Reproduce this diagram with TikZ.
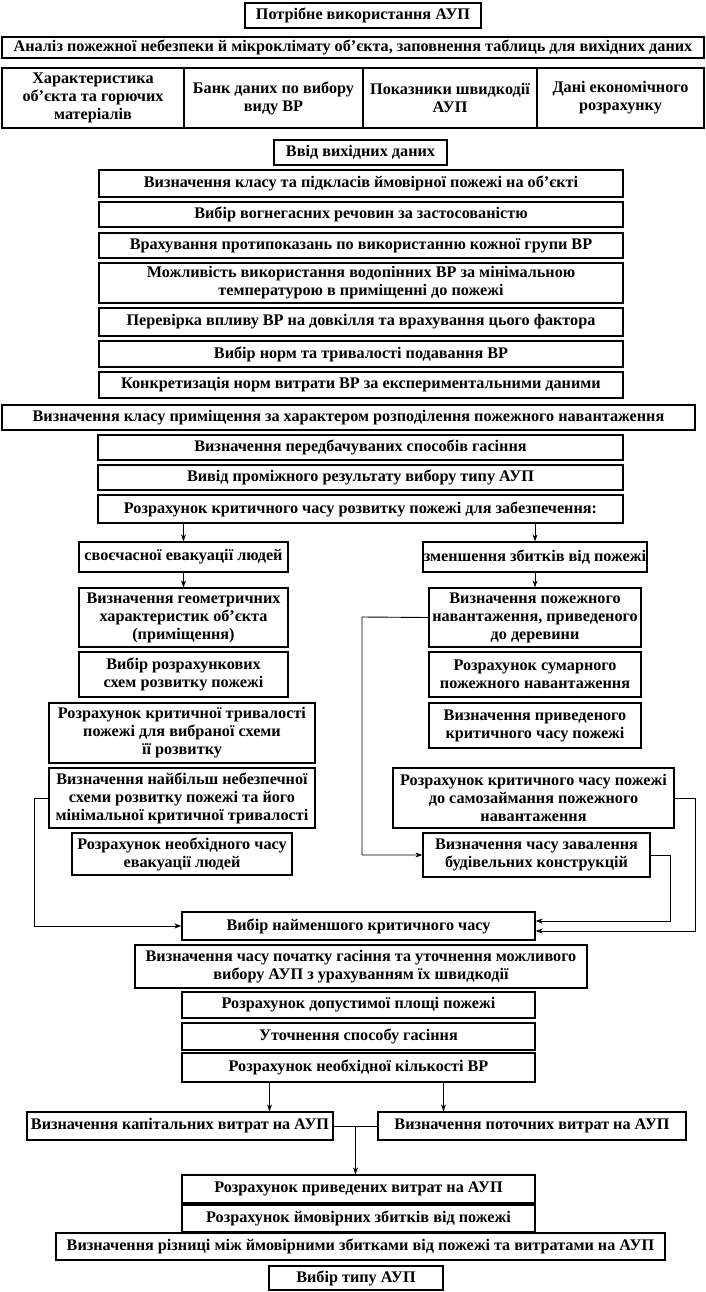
\documentclass[tikz,border=0pt]{standalone}
\usepackage{fontspec}
\setmainfont{Liberation Serif}
\usetikzlibrary{arrows.meta,calc}
\tikzset{
  box/.style={draw, line width=1.3pt, inner sep=0pt, align=center, font=\bfseries\fontsize{16.2}{18}\selectfont},
  arr/.style={line width=0.9pt, -{Stealth[length=7pt,width=5pt]}},
  conn/.style={line width=0.9pt}
}
\newcommand\bx[7][]{\node[box,#1,minimum width={(#5-#3)*1pt},minimum height={(#6-#4)*1pt}] (#2) at ({(#3+#5)/2*1pt},{-(#4+#6)/2*1pt}) {#7};}
\begin{document}
\begin{tikzpicture}
\useasboundingbox (0,0) rectangle (705pt,-1292pt);
\fill[white] (0,0) rectangle (705pt,-1292pt);
\bx{n1}{245}{3}{481}{28}{Потрібне використання АУП}
\bx[font=\bfseries\fontsize{16.2}{18}\selectfont]{n2}{2}{37}{704}{58}{Аналіз пожежної небезпеки й мікроклімату об’єкта, заповнення таблиць для вихідних даних}
\bx{n3}{2}{68}{184}{128}{Характеристика\\об’єкта та горючих\\матеріалів}
\bx{n4}{184}{68}{363}{128}{Банк даних по вибору\\виду ВР}
\bx{n5}{363}{68}{537}{128}{Показники швидкодії\\АУП}
\bx{n6}{537}{68}{704}{128}{Дані економічного\\розрахунку}
\bx{n7}{274}{140}{447}{165}{Ввід вихідних даних}
\bx{n8}{99}{170}{623}{197}{Визначення класу та підкласів ймовірної пожежі на об’єкті}
\bx{n9}{99}{202}{623}{227}{Вибір вогнегасних речовин за застосованістю}
\bx{n10}{99}{233}{623}{258}{Врахування протипоказань по використанню кожної групи ВР}
\bx{n11}{99}{263}{623}{303}{Можливість використання водопінних ВР за мінімальною\\температурою в приміщенні до пожежі}
\bx{n12}{99}{308}{623}{336}{Перевірка впливу ВР на довкілля та врахування цього фактора}
\bx{n13}{99}{341}{623}{367}{Вибір норм та тривалості подавання ВР}
\bx{n14}{99}{372}{623}{398}{Конкретизація норм витрати ВР за експериментальними даними}
\bx{n15}{2}{405}{695}{430}{Визначення класу приміщення за характером розподілення пожежного навантаження}
\bx{n16}{98}{435}{623}{460}{Визначення передбачуваних способів гасіння}
\bx{n17}{98}{465}{623}{490}{Вивід проміжного результату вибору типу АУП}
\bx{n18}{98}{495}{623}{523}{Розрахунок критичного часу розвитку пожежі для забезпечення:}
\bx{n19}{79}{542}{288}{572}{своєчасної евакуації людей}
\bx{n20}{423}{542}{647}{572}{зменшення збитків від пожежі}
\bx{n21}{79}{588}{288}{647}{Визначення геометричних\\характеристик об’єкта\\(приміщення)}
\bx{n22}{429}{588}{641}{647}{Визначення пожежного\\навантаження, приведеного\\до деревини}
\bx{n23}{79}{652}{288}{697}{Вибір розрахункових\\схем розвитку пожежі}
\bx{n24}{429}{652}{641}{697}{Розрахунок сумарного\\пожежного навантаження}
\bx{n25}{49}{703}{315}{763}{Розрахунок критичної тривалості\\пожежі для вибраної схеми\\її розвитку}
\bx{n26}{429}{703}{641}{748}{Визначення приведеного\\критичного часу пожежі}
\bx{n27}{49}{768}{315}{828}{Визначення найбільш небезпечної\\схеми розвитку пожежі та його\\мінімальної критичної тривалості}
\bx{n28}{393}{768}{674}{828}{Розрахунок критичного часу пожежі\\до самозаймання пожежного\\навантаження}
\bx{n29}{72}{833}{292}{875}{Розрахунок необхідного часу\\евакуації людей}
\bx{n30}{423}{833}{650}{877}{Визначення часу завалення\\будівельних конструкцій}
\bx{n31}{182}{912}{535}{940}{Вибір найменшого критичного часу}
\bx{n32}{135}{945}{587}{988}{Визначення часу початку гасіння та уточнення можливого\\вибору АУП з урахуванням їх швидкодії}
\bx{n33}{182}{992}{535}{1018}{Розрахунок допустимої площі пожежі}
\bx{n34}{182}{1023}{535}{1050}{Уточнення способу гасіння}
\bx{n35}{182}{1053}{535}{1082}{Розрахунок необхідної кількості ВР}
\bx{n36}{27}{1112}{333}{1140}{Визначення капітальних витрат на АУП}
\bx{n37}{378}{1112}{686}{1140}{Визначення поточних витрат на АУП}
\bx{n38}{182}{1175}{535}{1203}{Розрахунок приведених витрат на АУП}
\bx{n39}{182}{1205}{535}{1232}{Розрахунок ймовірних збитків від пожежі}
\bx{n40}{56}{1233}{665}{1260}{Визначення різниці між ймовірними збитками від пожежі та витратами на АУП}
\bx{n41}{269}{1266}{443}{1290}{Вибір типу АУП}
% connectors
\draw[arr] (n18.south -| n19.north) -- (n19.north);
\draw[arr] (n18.south -| n20.north) -- (n20.north);
\draw[arr] (n19.south) -- (n21.north);
\draw[arr] (n20.south) -- (n22.north);
\coordinate (c1) at (362pt,-617pt);
\draw[arr] (n22.west) -- (c1) |- (n30.west);
\coordinate (c2) at (34pt,-798pt);
\draw[arr] (n27.west) -- (c2) |- (n31.west);
\coordinate (c3) at (695pt,-798pt);
\draw[arr] (n28.east) -- (c3) |- ([yshift=-5pt]n31.east);
\coordinate (c4) at (670pt,-855pt);
\draw[arr] (n30.east) -- (c4) |- ([yshift=5pt]n31.east);
\draw[arr] ([xshift=-89pt]n35.south) -- ([xshift=-89pt]n35.south |- n36.north);
\draw[arr] ([xshift=85pt]n35.south) -- ([xshift=85pt]n35.south |- n37.north);
\draw[conn] (n36.east) -- (n37.west);
\coordinate (j) at ($(n36.east)!0.5!(n37.west)$);
\draw[arr] (j) -- (j |- n38.north);
\end{tikzpicture}
\end{document}
